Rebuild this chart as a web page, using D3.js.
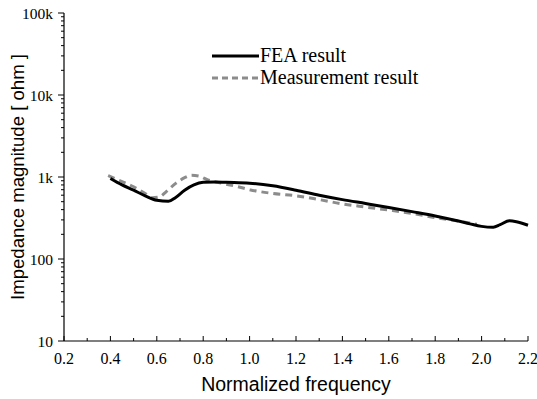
<!DOCTYPE html>
<html>
<head>
<meta charset="utf-8">
<script src="https://cdn.jsdelivr.net/npm/d3@7"></script>
<style>
  body { margin: 0; background: #fff; }
  svg { display: block; }
</style>
</head>
<body>
<div id="chart"></div>
<script>
// FEA result
const feaFreq = [0.40, 0.45, 0.50, 0.55, 0.60, 0.65, 0.68, 0.72, 0.76, 0.80, 0.85, 0.90, 1.00, 1.10, 1.20, 1.30, 1.40, 1.50, 1.60, 1.70, 1.80, 1.90, 1.95, 2.00, 2.05, 2.08, 2.12, 2.15, 2.20];
const feaZ = [960, 800, 690, 590, 520, 505, 560, 690, 800, 860, 870, 860, 840, 780, 690, 600, 530, 475, 425, 378, 335, 290, 268, 250, 244, 262, 292, 285, 258];

// Measurement result
const measFreq = [0.39, 0.45, 0.50, 0.55, 0.58, 0.61, 0.64, 0.68, 0.72, 0.75, 0.78, 0.82, 0.88, 0.95, 1.00, 1.10, 1.20, 1.30, 1.40, 1.50, 1.60, 1.70, 1.80, 1.90, 1.98];
const measZ = [1040, 880, 760, 630, 560, 570, 660, 830, 980, 1050, 1030, 920, 840, 760, 700, 630, 590, 530, 470, 430, 395, 360, 320, 290, 265];

const xTicks = [0.2, 0.4, 0.6, 0.8, 1.0, 1.2, 1.4, 1.6, 1.8, 2.0, 2.2];
const yTicks = [10, 100, 1000, 10000, 100000];
const yTickLabels = ["10", "100", "1k", "10k", "100k"];
const legendLabels = ["FEA result", "Measurement result"];

const width = 537, height = 399;
const margin = {top: 13, right: 9, bottom: 58, left: 64};

const svg = d3.select("#chart").append("svg")
    .attr("width", width)
    .attr("height", height);

const x = d3.scaleLinear().domain([0.2, 2.2]).range([margin.left, width - margin.right]);
const y = d3.scaleLog().domain([10, 100000]).range([height - margin.bottom, margin.top]);

const serif = "'Liberation Serif', 'Times New Roman', serif";
const sans = "'Liberation Sans', Arial, sans-serif";

// x axis: ticks point inward (up)
const xAxis = svg.append("g").attr("transform", "translate(0," + y(10) + ")");
xAxis.append("line")
    .attr("x1", x(0.2)).attr("x2", x(2.2))
    .attr("stroke", "#000").attr("stroke-width", 1.2);
const xMinor = d3.range(0.3, 2.2, 0.2);
xAxis.selectAll(".xmin").data(xMinor).join("line")
    .attr("x1", d => x(d)).attr("x2", d => x(d))
    .attr("y1", 0).attr("y2", -3)
    .attr("stroke", "#000");
xAxis.selectAll(".xmaj").data(xTicks).join("line")
    .attr("x1", d => x(d)).attr("x2", d => x(d))
    .attr("y1", 0).attr("y2", -5)
    .attr("stroke", "#000");
xAxis.selectAll(".xlab").data(xTicks).join("text")
    .attr("x", d => x(d))
    .attr("y", 22.5)
    .attr("text-anchor", "middle")
    .attr("font-family", serif)
    .attr("font-size", "16px")
    .text(d => d.toFixed(1));

// y axis: ticks point outward (left)
const yAxis = svg.append("g").attr("transform", "translate(" + x(0.2) + ",0)");
yAxis.append("line")
    .attr("y1", y(10)).attr("y2", y(100000))
    .attr("stroke", "#000").attr("stroke-width", 1.2);
const yMinor = [];
[10, 100, 1000, 10000].forEach(dec => {
    for (let k = 2; k <= 9; k++) yMinor.push(dec * k);
});
yAxis.selectAll(".ymin").data(yMinor).join("line")
    .attr("x1", 0).attr("x2", -3)
    .attr("y1", d => y(d)).attr("y2", d => y(d))
    .attr("stroke", "#000");
yAxis.selectAll(".ymaj").data(yTicks).join("line")
    .attr("x1", 0).attr("x2", -6)
    .attr("y1", d => y(d)).attr("y2", d => y(d))
    .attr("stroke", "#000");
yAxis.selectAll(".ylab").data(yTicks).join("text")
    .attr("x", -11)
    .attr("y", d => y(d) + 5.5)
    .attr("text-anchor", "end")
    .attr("font-family", serif)
    .attr("font-size", "15.5px")
    .text((d, i) => yTickLabels[i]);

// axis titles
svg.append("text")
    .attr("x", (x(0.2) + x(2.2)) / 2)
    .attr("y", 391)
    .attr("text-anchor", "middle")
    .attr("font-family", sans)
    .attr("font-size", "19.5px")
    .text("Normalized frequency");

svg.append("text")
    .attr("transform", "translate(24," + y(1000) + ") rotate(-90)")
    .attr("text-anchor", "middle")
    .attr("font-family", sans)
    .attr("font-size", "18.6px")
    .text("Impedance magnitude [ ohm ]");

// curves
const line = d3.line()
    .x(d => x(d[0]))
    .y(d => y(d[1]))
    .curve(d3.curveMonotoneX);

svg.append("path")
    .datum(measFreq.map((f, i) => [f, measZ[i]]))
    .attr("d", line)
    .attr("fill", "none")
    .attr("stroke", "#8c8c8c")
    .attr("stroke-width", 3)
    .attr("stroke-dasharray", "7,5");

svg.append("path")
    .datum(feaFreq.map((f, i) => [f, feaZ[i]]))
    .attr("d", line)
    .attr("fill", "none")
    .attr("stroke", "#000")
    .attr("stroke-width", 3);

// legend
const legend = svg.append("g").attr("transform", "translate(212,56)");
const legendStyles = [
    {stroke: "#000", dash: null},
    {stroke: "#8c8c8c", dash: "6,4"}
];
legendLabels.forEach((label, i) => {
    const g = legend.append("g").attr("transform", "translate(0," + (i * 22) + ")");
    g.append("line")
        .attr("x1", 0).attr("x2", 47)
        .attr("stroke", legendStyles[i].stroke)
        .attr("stroke-width", 3)
        .attr("stroke-dasharray", legendStyles[i].dash);
    g.append("text")
        .attr("x", 48)
        .attr("y", 6)
        .attr("font-family", serif)
        .attr("font-size", "20px")
        .text(label);
});
</script>
</body>
</html>
